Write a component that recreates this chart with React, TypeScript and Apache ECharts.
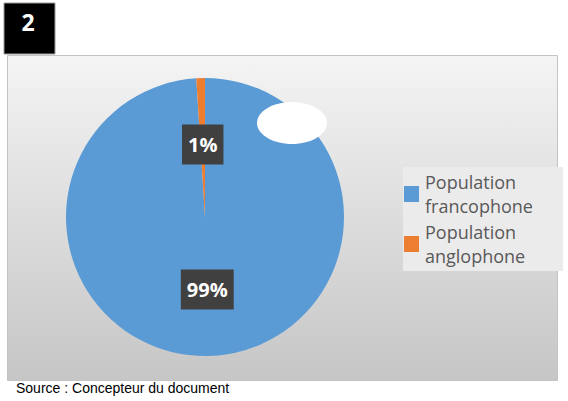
import React, { useEffect, useRef } from "react";
import * as echarts from "echarts";

const categories = ["Population francophone", "Population anglophone"];
const values = [99, 1];
const colors = ["#5b9bd5", "#ed7d31"];
const figureNumber = "2";
const sourceText = "Source : Concepteur du document";

export default function App() {
  const ref = useRef<HTMLDivElement>(null);
  useEffect(() => {
    if (!ref.current) return;
    const chart = echarts.init(ref.current, undefined, { renderer: "svg" });
    chart.setOption({
      animation: false,
      backgroundColor: "#ffffff",
      graphic: [
        {
          type: "rect",
          z: -10,
          shape: { x: 7.5, y: 55.5, width: 550, height: 325 },
          style: {
            fill: new echarts.graphic.LinearGradient(0, 0, 0, 1, [
              { offset: 0, color: "#f4f4f4" },
              { offset: 1, color: "#c6c6c6" },
            ]),
            stroke: "#c4c4c4",
            lineWidth: 1,
          },
        },
        {
          type: "rect",
          z: 20,
          shape: { x: 4, y: 3, width: 51, height: 51 },
          style: { fill: "#000000", stroke: "#9a9a9a", lineWidth: 1 },
        },
        {
          type: "text",
          z: 21,
          x: 28,
          y: 22,
          style: {
            text: figureNumber,
            fill: "#ffffff",
            font: "bold 23px 'Open Sans', sans-serif",
            textAlign: "center",
            textVerticalAlign: "middle",
          },
        },
        {
          type: "ellipse",
          z: 20,
          shape: { cx: 292, cy: 123, rx: 35, ry: 21 },
          style: { fill: "#ffffff" },
        },
        {
          type: "text",
          z: 20,
          x: 16,
          y: 388,
          style: {
            text: sourceText,
            fill: "#000000",
            font: "14px 'Liberation Sans', Arial, sans-serif",
            textVerticalAlign: "middle",
          },
        },
      ],
      legend: {
        orient: "vertical",
        left: 403,
        top: 167,
        data: categories,
        selectedMode: false,
        itemWidth: 15,
        itemHeight: 16,
        itemGap: 2,
        icon: "rect",
        backgroundColor: "#ebebeb",
        padding: [3, 30, 3, 1],
        formatter: (name: string) => name.replace(" ", "\n"),
        textStyle: {
          fontFamily: "'Open Sans', sans-serif",
          fontSize: 18,
          lineHeight: 24,
          color: "#595959",
          padding: [0, 0, 0, 1],
        },
      },
      series: [
        {
          type: "pie",
          center: [205, 217],
          radius: 139,
          startAngle: 90,
          clockwise: true,
          z: 2,
          label: {
            show: true,
            position: "inside",
            formatter: "{c}%",
            backgroundColor: "#404040",
            color: "#ffffff",
            fontWeight: "bold",
            fontSize: 20,
            lineHeight: 20,
            fontFamily: "'Open Sans', sans-serif",
            padding: [10, 6, 10, 6],
          },
          labelLine: { show: false },
          emphasis: { disabled: true },
          data: categories.map((name, i) => ({
            name,
            value: values[i],
            itemStyle: { color: colors[i] },
          })),
        },
      ],
    });
    return () => chart.dispose();
  }, []);
  return (
    <div
      ref={ref}
      style={{ position: "fixed", left: 0, top: 0, width: 568, height: 401 }}
    />
  );
}
